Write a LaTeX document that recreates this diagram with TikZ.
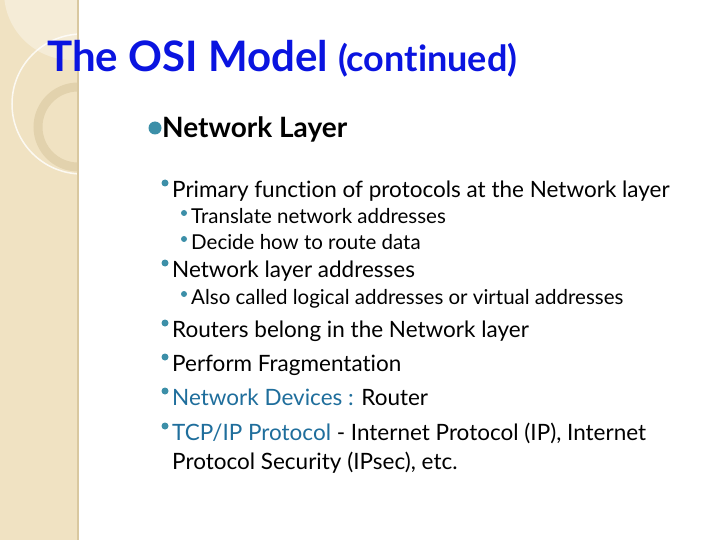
\documentclass[tikz,border=0pt]{standalone}
\usepackage{fontspec}
\setmainfont{Lato}[Ligatures=NoCommon]
\definecolor{titleblue}{HTML}{0A14E0}
\definecolor{bul}{HTML}{3C8FA8}
\definecolor{linkc}{HTML}{1F6E9C}
\definecolor{strip}{HTML}{F0E2C2}
\definecolor{stripd}{HTML}{D9C8A0}
\begin{document}
\begin{tikzpicture}[x=1pt,y=-1pt,
  txt/.style={anchor=base west,inner sep=0pt},
  bl/.style={circle,fill=bul,inner sep=0pt}]
\useasboundingbox (0,0) rectangle (720,540);
\fill[white] (0,0) rectangle (720,540);
\begin{scope}
\clip (0,0) rectangle (78,540);
\fill[strip] (0,0) rectangle (78,540);
\fill[white,opacity=0.35] (72,-8) circle (68);
\draw[white,opacity=0.8,line width=1.5pt] (82,104) circle (70);
\draw[stripd,opacity=0.6,line width=9pt] (78,127) circle (40);
\end{scope}
\draw[stripd,line width=1.5pt] (78,0) -- (78,540);
\node[txt,text=titleblue,font=\fontsize{42}{46}\selectfont\bfseries] (t) at (47,72) {The OSI Model \fontsize{36}{40}\selectfont(continued)};
\node[bl,minimum size=13pt] (b0) at (155,128) {};
\node[txt,font=\fontsize{28}{30}\selectfont\bfseries] (n0) at (162,138) {Network Layer};
\foreach \nm/\bx/\by/\tx/\ty/\fs/\bs/\t in {
 a/165/183/172/197/22.5/7/{Primary function of protocols at the Network layer},
 b/184/213/191/223/20.5/6/{Translate network addresses},
 c/184/239/191/249/20.5/6/{Decide how to route data},
 d/165/263/172/277/22.5/7/{Network layer addresses},
 e/184/294/191/304/20.5/6/{Also called logical addresses or virtual addresses},
 f/165/323/172/337/22.5/7/{Routers belong in the Network layer},
 g/165/357/172/371/22.5/7/{Perform Fragmentation},
 h/165/391/172/405/22.5/7/{\textcolor{linkc}{Network Devices :} Router},
 i/165/426/172/440/22.5/7/{\textcolor{linkc}{TCP/IP Protocol} - Internet Protocol (IP), Internet}}{
 \node[bl,minimum size=\bs pt] (b\nm) at (\bx,\by) {};
 \node[txt,font=\fontsize{\fs}{\fs}\selectfont] (n\nm) at (\tx,\ty) {\t};
}
\node[txt,font=\fontsize{22.5}{22.5}\selectfont] (nj) at (172,469) {Protocol Security (IPsec), etc.};
\end{tikzpicture}
\end{document}
